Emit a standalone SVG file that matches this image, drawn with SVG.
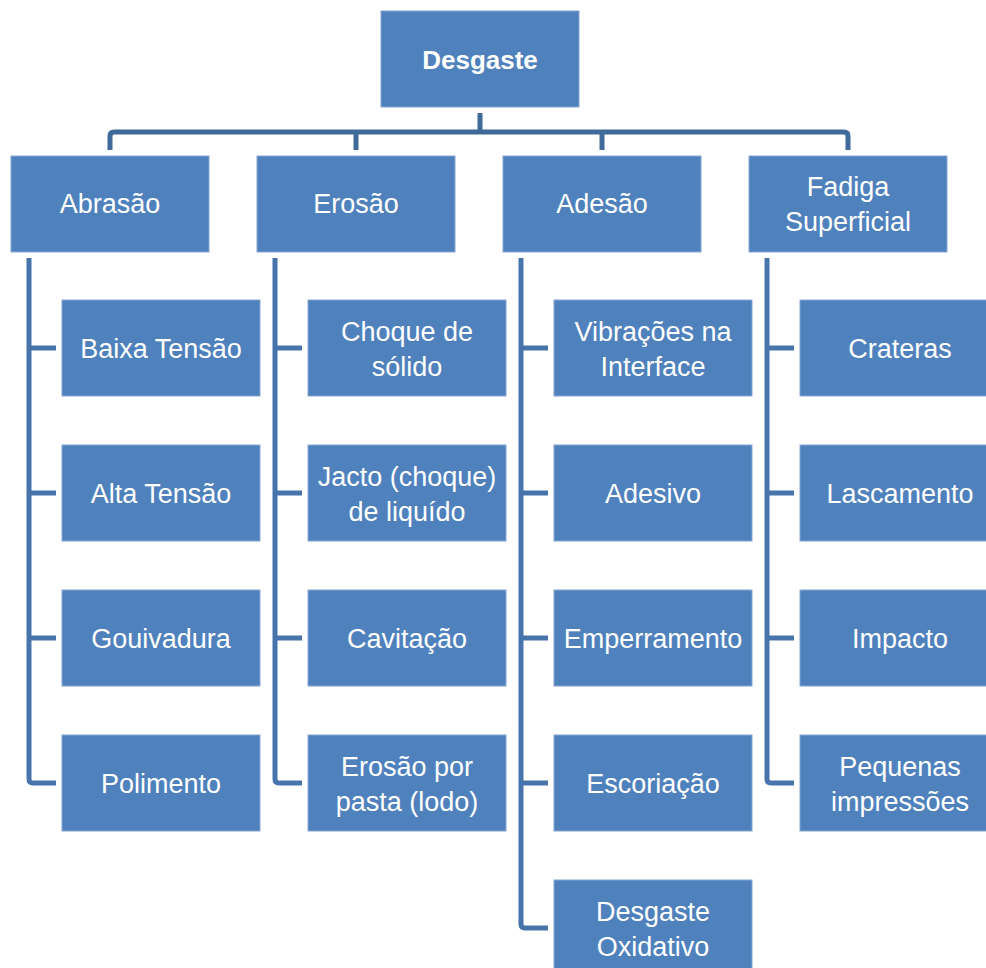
<svg xmlns="http://www.w3.org/2000/svg" width="986" height="968" viewBox="0 0 986 968">
<style>
.box{fill:#4F81BD;stroke:#86A6D3;stroke-width:1}
.t{font-family:"Liberation Sans",Arial,sans-serif;font-size:27px;fill:#FFFFFF;text-anchor:middle}
.b{font-weight:bold;font-size:26px}
.bus{fill:none;stroke:#3F6A9A;stroke-width:5;stroke-linejoin:round}
.vl{fill:none;stroke:#4874AC;stroke-width:5;stroke-linejoin:round}
</style>
<rect width="986" height="968" fill="#FFFFFF"/>
<g id="connectors">
<path class="bus" d="M480,113 V132"/>
<path class="bus" d="M110,150 V136 Q110,132 114,132 H844 Q848,132 848,136 V150"/>
<path class="bus" d="M356,132 V150"/>
<path class="bus" d="M602,132 V150"/>
<path class="vl" d="M29,258 V779 Q29,783 33,783 H56"/>
<path class="vl" d="M29,348 H56 M29,493 H56 M29,638 H56"/>
<path class="vl" d="M275,258 V779 Q275,783 279,783 H302"/>
<path class="vl" d="M275,348 H302 M275,493 H302 M275,638 H302"/>
<path class="vl" d="M521,258 V924 Q521,928 525,928 H548"/>
<path class="vl" d="M521,348 H548 M521,493 H548 M521,638 H548 M521,783 H548"/>
<path class="vl" d="M767,258 V779 Q767,783 771,783 H794"/>
<path class="vl" d="M767,348 H794 M767,493 H794 M767,638 H794"/>
</g>
<g id="n-desgaste"><rect class="box" x="381" y="11" width="198" height="96"/><text class="t b" x="480" y="69">Desgaste</text></g>
<g id="n-abrasao"><rect class="box" x="11" y="156" width="198" height="96"/><text class="t" x="110" y="213">Abrasão</text></g>
<g id="n-erosao"><rect class="box" x="257" y="156" width="198" height="96"/><text class="t" x="356" y="213">Erosão</text></g>
<g id="n-adesao"><rect class="box" x="503" y="156" width="198" height="96"/><text class="t" x="602" y="213">Adesão</text></g>
<g id="n-fadiga"><rect class="box" x="749" y="156" width="198" height="96"/><text class="t" x="848" y="196">Fadiga</text><text class="t" x="848" y="231">Superficial</text></g>

<g id="n-baixa"><rect class="box" x="62" y="300" width="198" height="96"/><text class="t" x="161" y="358">Baixa Tensão</text></g>
<g id="n-alta"><rect class="box" x="62" y="445" width="198" height="96"/><text class="t" x="161" y="503">Alta Tensão</text></g>
<g id="n-gouivadura"><rect class="box" x="62" y="590" width="198" height="96"/><text class="t" x="161" y="648">Gouivadura</text></g>
<g id="n-polimento"><rect class="box" x="62" y="735" width="198" height="96"/><text class="t" x="161" y="793">Polimento</text></g>

<g id="n-choque"><rect class="box" x="308" y="300" width="198" height="96"/><text class="t" x="407" y="341">Choque de</text><text class="t" x="407" y="376">sólido</text></g>
<g id="n-jacto"><rect class="box" x="308" y="445" width="198" height="96"/><text class="t" x="407" y="486">Jacto (choque)</text><text class="t" x="407" y="521">de liquído</text></g>
<g id="n-cavitacao"><rect class="box" x="308" y="590" width="198" height="96"/><text class="t" x="407" y="648">Cavitação</text></g>
<g id="n-erosaopasta"><rect class="box" x="308" y="735" width="198" height="96"/><text class="t" x="407" y="776">Erosão por</text><text class="t" x="407" y="811">pasta (lodo)</text></g>

<g id="n-vibracoes"><rect class="box" x="554" y="300" width="198" height="96"/><text class="t" x="653" y="341">Vibrações na</text><text class="t" x="653" y="376">Interface</text></g>
<g id="n-adesivo"><rect class="box" x="554" y="445" width="198" height="96"/><text class="t" x="653" y="503">Adesivo</text></g>
<g id="n-emperramento"><rect class="box" x="554" y="590" width="198" height="96"/><text class="t" x="653" y="648">Emperramento</text></g>
<g id="n-escoriacao"><rect class="box" x="554" y="735" width="198" height="96"/><text class="t" x="653" y="793">Escoriação</text></g>
<g id="n-oxidativo"><rect class="box" x="554" y="880" width="198" height="96"/><text class="t" x="653" y="921">Desgaste</text><text class="t" x="653" y="956">Oxidativo</text></g>

<g id="n-crateras"><rect class="box" x="800" y="300" width="198" height="96"/><text class="t" x="900" y="358">Crateras</text></g>
<g id="n-lascamento"><rect class="box" x="800" y="445" width="198" height="96"/><text class="t" x="900" y="503">Lascamento</text></g>
<g id="n-impacto"><rect class="box" x="800" y="590" width="198" height="96"/><text class="t" x="900" y="648">Impacto</text></g>
<g id="n-pequenas"><rect class="box" x="800" y="735" width="198" height="96"/><text class="t" x="900" y="776">Pequenas</text><text class="t" x="900" y="811">impressões</text></g>
</svg>
